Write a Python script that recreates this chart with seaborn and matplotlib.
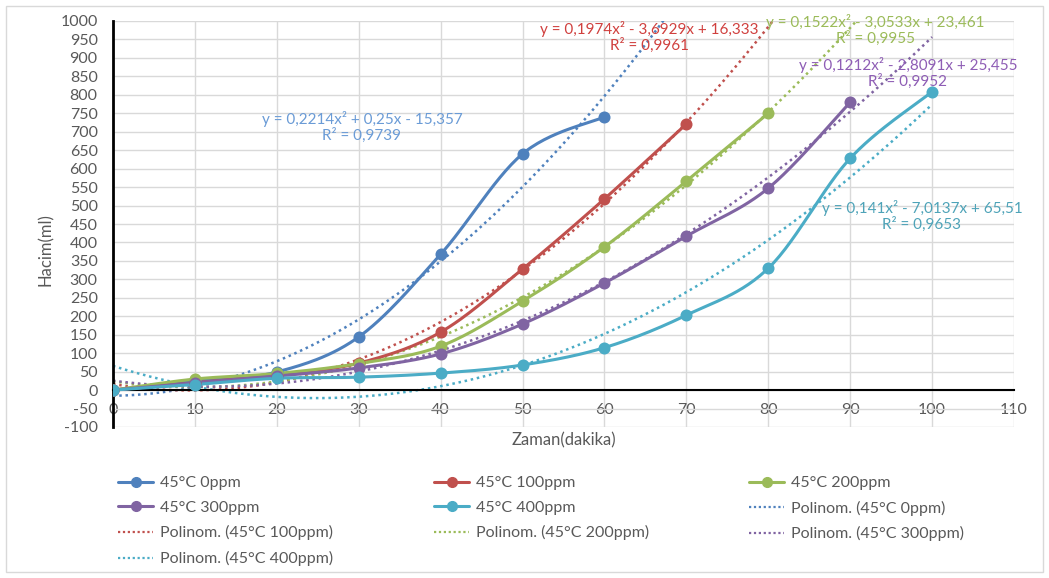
import numpy as np
import pandas as pd
import matplotlib
matplotlib.use("Agg")
import matplotlib.pyplot as plt
from matplotlib.lines import Line2D
from matplotlib.patches import Rectangle
import seaborn as sns

# ---------------- data ----------------
series_names = ["45°C 0ppm", "45°C 100ppm", "45°C 200ppm", "45°C 300ppm", "45°C 400ppm"]
time_0 = [0, 10, 20, 30, 40, 50, 60]
vol_0 = [0, 25, 49, 144, 368, 640, 740]
time_100 = [0, 10, 20, 30, 40, 50, 60, 70]
vol_100 = [0, 20, 42, 73, 157, 328, 518, 721]
time_200 = [0, 10, 20, 30, 40, 50, 60, 70, 80]
vol_200 = [0, 30, 45, 72, 119, 241, 388, 566, 750]
time_300 = [0, 10, 20, 30, 40, 50, 60, 70, 80, 90]
vol_300 = [0, 20, 38, 60, 98, 179, 290, 417, 547, 780]
time_400 = [0, 10, 20, 30, 40, 50, 60, 70, 80, 90, 100]
vol_400 = [0, 15, 32, 35, 46, 68, 115, 203, 330, 628, 808]

# trendline coefficients (a, b, c) as printed on the chart
poly_0 = [0.2214, 0.25, -15.357]
poly_100 = [0.1974, -3.6929, 16.333]
poly_200 = [0.1522, -3.0533, 23.461]
poly_300 = [0.1212, -2.8091, 25.455]
poly_400 = [0.141, -7.0137, 65.51]

eq_texts = ["y = 0,2214x² + 0,25x - 15,357\nR² = 0,9739",
            "y = 0,1974x² - 3,6929x + 16,333\nR² = 0,9961",
            "y = 0,1522x² - 3,0533x + 23,461\nR² = 0,9955",
            "y = 0,1212x² - 2,8091x + 25,455\nR² = 0,9952",
            "y = 0,141x² - 7,0137x + 65,51\nR² = 0,9653"]

x_ticks = list(range(0, 111, 10))
y_ticks = list(range(-100, 1001, 50))

colors = ["#4F81BD", "#C0504D", "#9BBB59", "#8064A2", "#4BACC6"]
eq_colors = ["#6A9BD6", "#D0403E", "#9BBB59", "#8E5DB5", "#4EA3B8"]

times = [time_0, time_100, time_200, time_300, time_400]
vols = [vol_0, vol_100, vol_200, vol_300, vol_400]
polys = [poly_0, poly_100, poly_200, poly_300, poly_400]

# ---------------- style ----------------
sns.set_theme(style="white")
plt.rcParams["font.family"] = ["Lato", "DejaVu Sans"]
TXT = "#595959"


def smooth(xs, ys, n=30):
    """Excel-like smoothed line (Catmull-Rom Bezier) for drawing only."""
    xs = np.asarray(xs, float)
    ys = np.asarray(ys, float)
    P = np.column_stack([xs, ys])
    out = []
    for i in range(len(P) - 1):
        p0 = P[i - 1] if i > 0 else P[i]
        p1 = P[i]
        p2 = P[i + 1]
        p3 = P[i + 2] if i + 2 < len(P) else P[i + 1]
        c1 = p1 + (p2 - p0) / 6.0
        c2 = p2 - (p3 - p1) / 6.0
        t = np.linspace(0, 1, n)[:, None]
        seg = ((1 - t) ** 3) * p1 + 3 * ((1 - t) ** 2) * t * c1 + 3 * (1 - t) * t ** 2 * c2 + t ** 3 * p2
        out.append(seg if i == 0 else seg[1:])
    seg = np.vstack(out)
    return seg[:, 0], seg[:, 1]


fig = plt.figure(figsize=(10.49, 5.78), dpi=100)
ax = fig.add_axes([113 / 1049, 1 - 427 / 578, (1014 - 113) / 1049, (427 - 21) / 578])

# chart border
fig.patches.append(Rectangle((6 / 1049, 6 / 578), 1037 / 1049, 566 / 578,
                             transform=fig.transFigure, fill=False,
                             edgecolor="#D9D9D9", linewidth=1.0))

# trendlines
xt = np.linspace(0, 100, 400)
for i in range(5):
    yt = np.polyval(polys[i], xt)
    df = pd.DataFrame({"x": xt, "y": yt})
    sns.lineplot(data=df, x="x", y="y", ax=ax, color=colors[i], linestyle=(0, (1, 1.5)),
                 linewidth=1.8, sort=False, zorder=2)

# data series
for i in range(5):
    sx, sy = smooth(times[i], vols[i])
    df = pd.DataFrame({"x": sx, "y": sy})
    sns.lineplot(data=df, x="x", y="y", ax=ax, color=colors[i], linewidth=2.2,
                 sort=False, zorder=3)
    dp = pd.DataFrame({"x": times[i], "y": vols[i]})
    sns.scatterplot(data=dp, x="x", y="y", ax=ax, color=colors[i], s=75,
                    edgecolor=colors[i], linewidth=0, zorder=4)

# equations
eq_pos = [(362, 127), (649, 37), (875, 30), (908, 73), (922, 216)]
for i in range(5):
    px, py = eq_pos[i]
    fig.text(px / 1049, 1 - py / 578, eq_texts[i], ha="center", va="center",
             color=eq_colors[i], fontsize=11, linespacing=1.1)

# axes
ax.set_xlim(0, 110)
ax.set_ylim(-100, 1000)
ax.set_xticks(x_ticks)
ax.set_yticks(y_ticks)
ax.set_xticklabels([str(v) for v in x_ticks])
ax.set_yticklabels([str(v) for v in y_ticks])
ax.grid(True, color="#D9D9D9", linewidth=1.0)
ax.set_axisbelow(True)
for s in ["top", "right"]:
    ax.spines[s].set_visible(False)
ax.spines["bottom"].set_position(("data", 0))
ax.spines["bottom"].set_color("black")
ax.spines["bottom"].set_linewidth(1.5)
ax.spines["bottom"].set_zorder(2.5)
ax.spines["left"].set_color("black")
ax.spines["left"].set_linewidth(2.0)
ax.tick_params(axis="x", length=0, pad=9, labelsize=11.5, labelcolor=TXT)
ax.tick_params(axis="y", length=0, pad=11, labelsize=11.5, labelcolor=TXT)
ax.set_xlabel("Zaman(dakika)", fontsize=12, color=TXT)
ax.set_ylabel("Hacim(ml)", fontsize=12, color=TXT)
ax.xaxis.set_label_coords(0.5, -0.012)
ax.yaxis.set_label_coords(-0.066, 0.436)

# legend: three columns placed like the Excel legend
def solid_handle(c):
    return Line2D([], [], color=c, linewidth=2.2, marker="o", markersize=7)


def dotted_handle(c):
    return Line2D([], [], color=c, linewidth=1.6, linestyle=(0, (1, 1.2)))


labels_all = series_names + ["Polinom. (" + n + ")" for n in series_names]
handles_all = [solid_handle(c) for c in colors] + [dotted_handle(c) for c in colors]
order_cols = [[0, 3, 6, 9], [1, 4, 7], [2, 5, 8]]
col_x = [110, 426, 741]
for cx, idxs in zip(col_x, order_cols):
    leg = fig.legend([handles_all[k] for k in idxs], [labels_all[k] for k in idxs],
                     loc="upper left", bbox_to_anchor=(cx / 1049, 1 - 468 / 578),
                     frameon=False, fontsize=11.5, handlelength=2.2, handletextpad=0.4,
                     labelspacing=0.66, borderpad=0)
    for t in leg.get_texts():
        t.set_color(TXT)

fig.savefig("out.png", dpi=100)
